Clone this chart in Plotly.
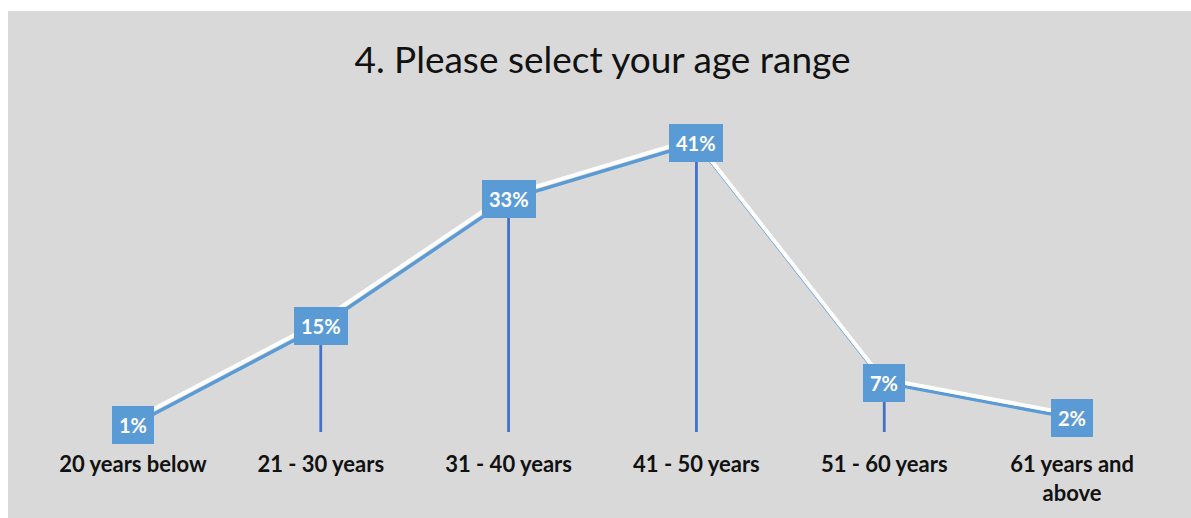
import plotly.graph_objects as go

categories = ["20 years below", "21 - 30 years", "31 - 40 years", "41 - 50 years",
              "51 - 60 years", "61 years and<br>above"]
values = [1, 15, 33, 41, 7, 2]
labels = ["1%", "15%", "33%", "41%", "7%", "2%"]

W, H = 1191, 518
L, R, T, B = 39, 25, 100, 86
PW, PH = W - L - R, H - T - B
Y_TOP = 47.1
X_RANGE = [-0.5, 5.5]

BG = "#d9d9d9"
LINE = "#5b9bd5"
DROP = "#4472c4"
FONT = "Lato"

def px_to_paper_x(px):
    return (px - L) / PW

def px_to_paper_y(py):
    return (H - B - py) / PH

idx = list(range(len(categories)))

fig = go.Figure()

# drop lines
dx, dy = [], []
for i, v in zip(idx, values):
    dx += [i, i, None]
    dy += [0, v, None]
fig.add_trace(go.Scatter(x=dx, y=dy, mode="lines", line=dict(color=DROP, width=2.8),
                         hoverinfo="skip", showlegend=False))

# white shadow line on offset axes
shift_y = 4 / (PH / Y_TOP)
shift_x = 2 / (PW / 6)
fig.add_trace(go.Scatter(x=idx, y=values, mode="lines", line=dict(color="white", width=4),
                         xaxis="x2", yaxis="y2", hoverinfo="skip", showlegend=False))
# main line
fig.add_trace(go.Scatter(x=idx, y=values, mode="lines", line=dict(color=LINE, width=3.5),
                         showlegend=False))

for i, v, t in zip(idx, values, labels):
    fig.add_annotation(x=i, y=v, text=f"<b>{t}</b>", showarrow=False,
                       font=dict(family=FONT, size=20, color="white"),
                       bgcolor=LINE, bordercolor=LINE, borderwidth=1, borderpad=6)

fig.update_layout(
    width=W, height=H,
    margin=dict(l=L, r=R, t=T, b=B, autoexpand=False),
    paper_bgcolor=BG, plot_bgcolor=BG,
    title=dict(text="4. Please select your age range", x=0.5, xref="paper",
               y=1 - 60 / H, yanchor="middle",
               font=dict(family=FONT, size=37, color="#111111")),
    xaxis=dict(range=X_RANGE, tickmode="array", tickvals=idx, ticktext=[f"<b>{c}</b>" for c in categories],
               showgrid=False, zeroline=False, showline=False, ticks="outside", ticklen=13,
               tickcolor=BG, tickwidth=0.1, automargin=False,
               tickfont=dict(family=FONT, size=22, color="#111111")),
    yaxis=dict(range=[0, Y_TOP], visible=False, showgrid=False, zeroline=False, automargin=False),
    xaxis2=dict(range=[X_RANGE[0] + shift_x, X_RANGE[1] + shift_x], overlaying="x", visible=False),
    yaxis2=dict(range=[-shift_y, Y_TOP - shift_y], overlaying="y", visible=False),
    shapes=[
        dict(type="rect", xref="paper", yref="paper", x0=px_to_paper_x(0), x1=px_to_paper_x(8),
             y0=px_to_paper_y(H), y1=px_to_paper_y(0), fillcolor="white", line=dict(width=0), layer="below"),
        dict(type="rect", xref="paper", yref="paper", x0=px_to_paper_x(0), x1=px_to_paper_x(W),
             y0=px_to_paper_y(11), y1=px_to_paper_y(0), fillcolor="white", line=dict(width=0), layer="below"),
    ],
)

fig.write_html("out.html")
